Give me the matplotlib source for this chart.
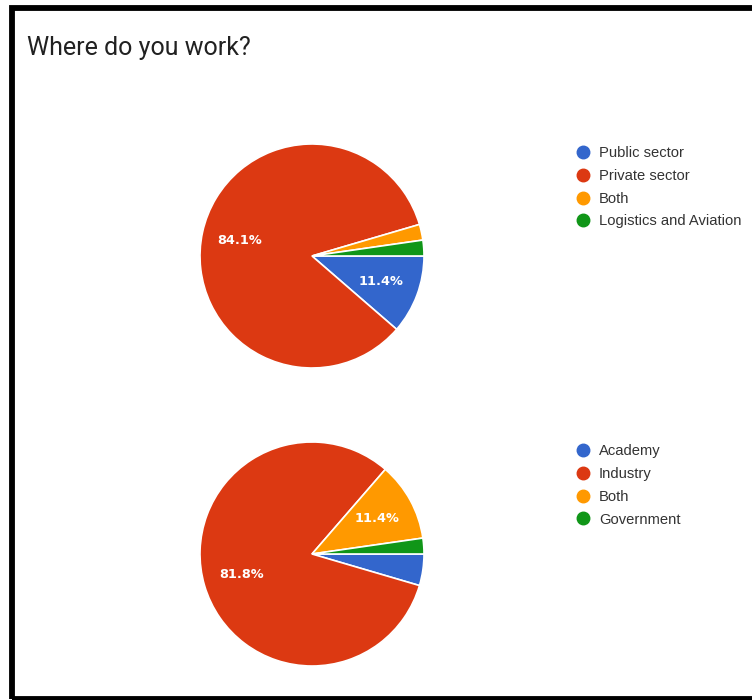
import matplotlib
matplotlib.use("Agg")
import matplotlib.pyplot as plt
from matplotlib.lines import Line2D
from matplotlib.patches import Rectangle

title = "Where do you work?"
labels1 = ["Public sector", "Private sector", "Both", "Logistics and Aviation"]
values1 = [5, 37, 1, 1]
labels2 = ["Academy", "Industry", "Both", "Government"]
values2 = [2, 36, 5, 1]
colors = ["#3366cc", "#dc3912", "#ff9900", "#109618"]

W, H = 752, 700
fig = plt.figure(figsize=(W / 100, H / 100), dpi=100)
fig.patch.set_facecolor("white")

def px_axes(cx, cy, r):
    return fig.add_axes([(cx - r) / W, (H - cy - r) / H, 2 * r / W, 2 * r / H])

def autopct(p):
    return f"{p:.1f}%" if p >= 5 else ""

def draw_pie(cx, cy, r, values, labels, leg_x, leg_y):
    ax = px_axes(cx, cy, r)
    ax.pie(
        values, colors=colors, startangle=0, counterclock=False,
        autopct=autopct, pctdistance=0.66, radius=1,
        wedgeprops=dict(edgecolor="white", linewidth=1.2),
        textprops=dict(color="white", fontsize=9.3, fontweight="bold",
                       family="DejaVu Sans"))
    ax.set_xlim(-1, 1)
    ax.set_ylim(-1, 1)
    ax.set_aspect("equal")
    ax.axis("off")
    handles = [Line2D([0], [0], marker="o", linestyle="", markersize=9,
                      markerfacecolor=c, markeredgecolor=c) for c in colors]
    leg = fig.legend(handles, labels, loc="upper left",
                     bbox_to_anchor=(leg_x / W, 1 - leg_y / H),
                     frameon=False, labelspacing=0.6,
                     handlelength=0.9, handletextpad=0.65, borderpad=0,
                     borderaxespad=0, prop=dict(family="Liberation Sans", size=10.6))
    for t in leg.get_texts():
        t.set_color("#333333")

draw_pie(312, 256, 112, values1, labels1, 576, 146)
draw_pie(312, 554, 112, values2, labels2, 576, 444)

fig.text(27 / W, 1 - 48 / H, title, fontsize=18, color="#212121",
         family="Roboto", va="center", ha="left")

border = Rectangle((12 / W, 1 - 699 / H), 800 / W, (699 - 7.5) / H,
                   transform=fig.transFigure, fill=False, edgecolor="black",
                   linewidth=4.2, clip_on=False)
fig.add_artist(border)

fig.savefig("out.png", dpi=100)
